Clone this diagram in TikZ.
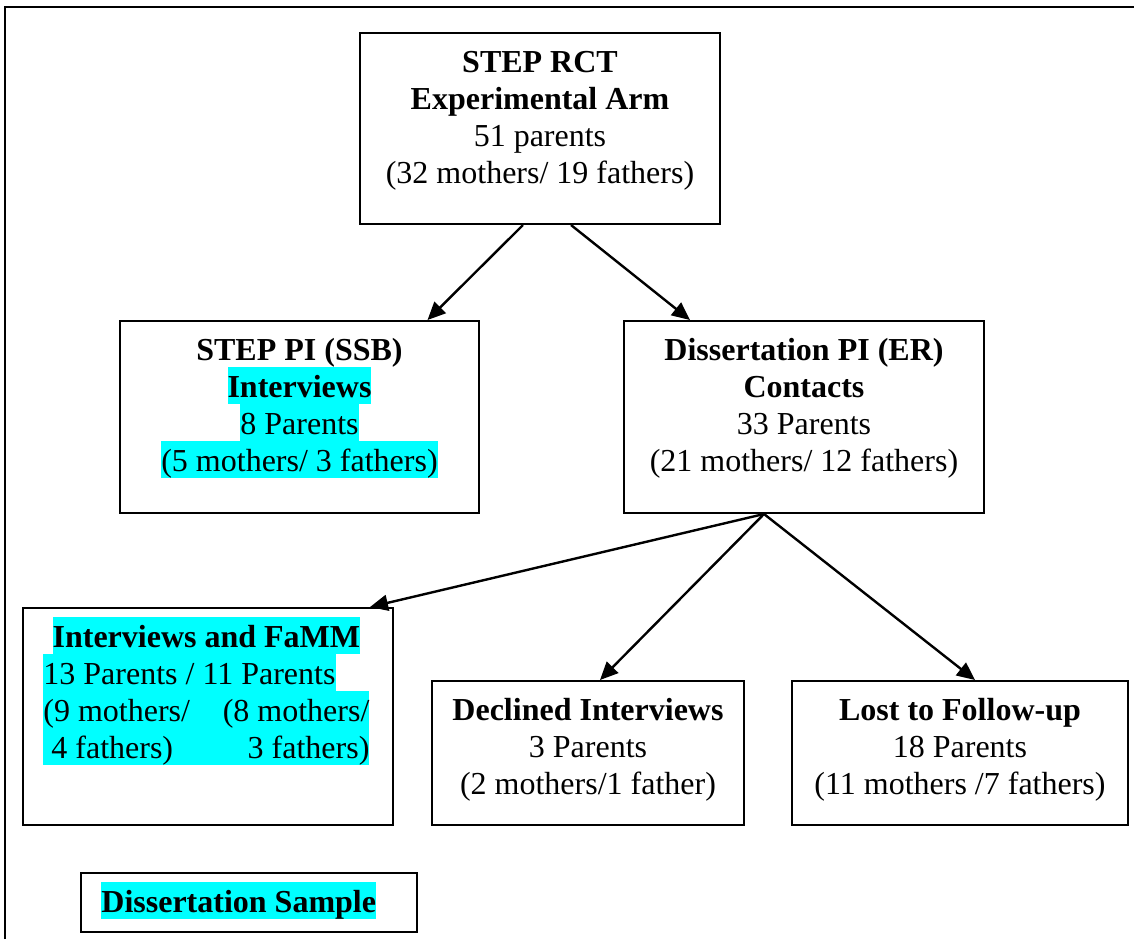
\documentclass[tikz,border=0pt]{standalone}
\usepackage{fontspec}
\setmainfont{Liberation Serif}
\usetikzlibrary{arrows.meta}
\definecolor{hlcyan}{RGB}{0,255,255}
\newcommand{\lst}{\rule[-3.5pt]{0pt}{18.5pt}}
\newcommand{\hl}[1]{{\setlength{\fboxsep}{0pt}\colorbox{hlcyan}{\lst#1}}}
\newlength{\famw}
\setlength{\famw}{163pt}

\begin{document}
\begin{tikzpicture}[x=0.5pt,y=-0.5pt,
	box/.style={draw,line width=1pt,inner sep=0pt},
	txt/.style={anchor=north,inner sep=0pt,align=center,font=\fontsize{16}{18.5}\selectfont},
	arr/.style={line width=1.2pt,-{Triangle[length=9pt,width=8pt]}}]
	\useasboundingbox (0,0) rectangle (1134,939);
	\draw[line width=1pt] (5,939) -- (5,7) -- (1134,7);
	\node[box,minimum width=180pt,minimum height=95.5pt] (rct) at (540,128.5) {};
	\node[box,minimum width=179.5pt,minimum height=96pt] (ssb) at (299.5,417) {};
	\node[box,minimum width=180pt,minimum height=96pt] (diss) at (804,417) {};
	\node[box,minimum width=185pt,minimum height=108.5pt] (famm) at (208,716.5) {};
	\node[box,minimum width=156pt,minimum height=72pt] (declined) at (588,753) {};
	\node[box,minimum width=168pt,minimum height=72pt] (lost) at (960,753) {};
	\node[box,minimum width=168pt,minimum height=29.5pt] (sample) at (249,902.5) {};
	\node[txt] (rcttext) at ([yshift=-5pt]rct.north) {\lst\textbf{STEP RCT}\\ \lst\textbf{Experimental Arm}\\ \lst 51 parents\\ \lst(32 mothers/ 19 fathers)};
	\node[txt] (ssbtext) at ([yshift=-5pt]ssb.north) {\lst\textbf{STEP PI (SSB)}\\ \hl{\textbf{Interviews}}\\ \hl{8 Parents}\\ \hl{(5 mothers/ 3 fathers)}};
	\node[txt] (disstext) at ([yshift=-5pt]diss.north) {\lst\textbf{Dissertation PI (ER)}\\ \lst\textbf{Contacts}\\ \lst 33 Parents\\ \lst(21 mothers/ 12 fathers)};
	\node[txt,anchor=north west,align=left] (fammtext) at ([xshift=10.5pt,yshift=-5pt]famm.north west) {\makebox[\famw]{\hl{\textbf{Interviews and FaMM}}}\\ \makebox[\famw][l]{\hl{13 Parents / 11 Parents}}\\ \hl{\makebox[\famw]{(9 mothers/\hfill(8 mothers/}}\\ \hl{\makebox[\famw]{\ 4 fathers)\hfill 3 fathers)}}};
	\node[txt] (declinedtext) at ([yshift=-5pt]declined.north) {\lst\textbf{Declined Interviews}\\ \lst 3 Parents\\ \lst(2 mothers/1 father)};
	\node[txt] (losttext) at ([yshift=-5pt]lost.north) {\lst\textbf{Lost to Follow-up}\\ \lst 18 Parents\\ \lst(11 mothers /7 fathers)};
	\node[txt,anchor=north west] (sampletext) at ([xshift=10.5pt,yshift=-5pt]sample.north west) {\hl{\textbf{Dissertation Sample}}};
	\coordinate (fork) at ([xshift=-20pt]diss.south);
	\draw[arr] ([xshift=-8.5pt]rct.south) -- ([xshift=64pt]ssb.north);
	\draw[arr] ([xshift=15.5pt]rct.south) -- ([xshift=-57pt]diss.north);
	\draw[arr] (fork) -- ([xshift=81pt]famm.north);
	\draw[arr] (fork) -- ([xshift=6pt]declined.north);
	\draw[arr] (fork) -- ([xshift=7.5pt]lost.north);
\end{tikzpicture}
\end{document}
